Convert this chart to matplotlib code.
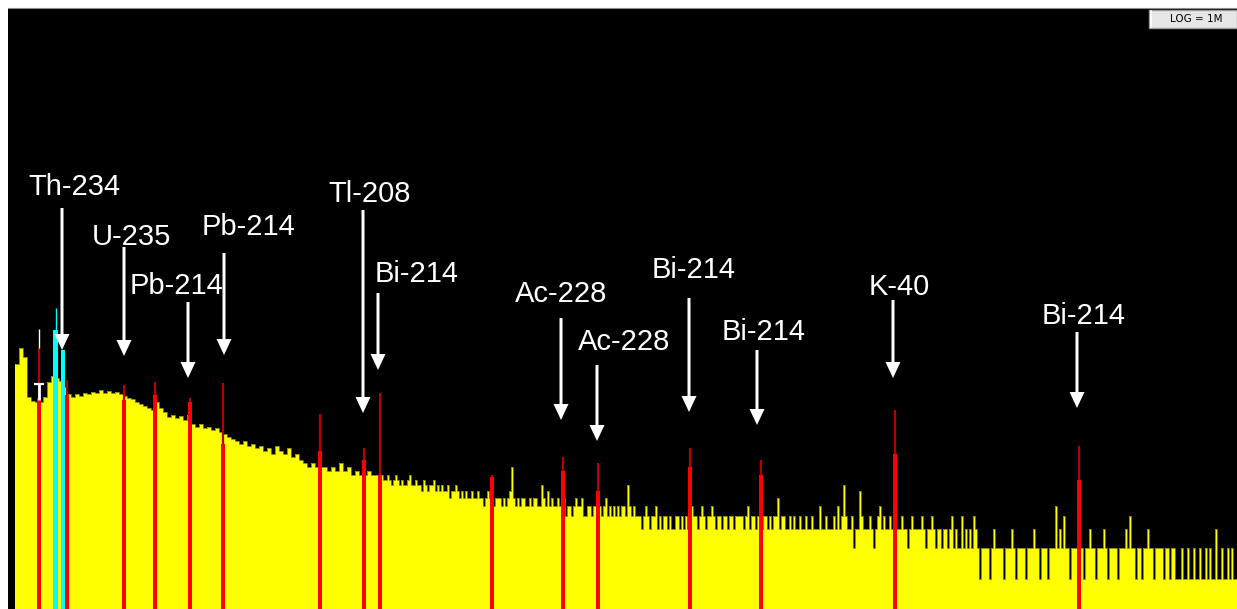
import numpy as np
import matplotlib
matplotlib.use("Agg")
import matplotlib.pyplot as plt
from matplotlib.patches import Polygon, Rectangle
from matplotlib.ticker import NullLocator

# ---------------------------------------------------------------- data
# Gamma spectrum, low-energy part: counts per 4-channel bin from channel 7
counts_low = [
    118, 165, 135, 56, 52, 50, 50, 56, 78, 90,
    85, 80, 70, 60, 56, 60, 58, 62, 60, 63,
    61, 65, 62, 64, 62, 63, 60, 58, 55, 54,
    50, 48, 46, 44, 42, 50, 44, 40, 36, 38,
    35, 37, 34, 38, 31, 29, 31, 28, 29, 27,
    28, 26, 25, 23, 22, 21, 20, 21, 19, 20,
    18, 19, 17, 18, 16, 19, 17, 16, 18, 15,
    16, 14, 13, 12, 13, 12, 12, 12, 11, 12,
    11, 13, 11, 12, 10, 11, 10, 10, 11, 10,
    10,
]
low_start = 7
low_width = 4

# High-energy part: counts per 2-channel bin from channel 371
counts_high = [
    9, 10, 9, 9, 10, 9, 8, 9, 10, 9,
    8, 9, 8, 8, 9, 10, 8, 8, 9, 8,
    8, 7, 9, 8, 7, 8, 8, 9, 7, 8,
    7, 8, 7, 7, 8, 6, 7, 7, 8, 7,
    6, 7, 6, 7, 6, 6, 7, 6, 6, 7,
    6, 6, 5, 6, 7, 6, 6, 5, 6, 6,
    6, 5, 6, 5, 6, 7, 12, 6, 5, 6,
    5, 6, 6, 5, 5, 6, 5, 6, 6, 5,
    5, 8, 6, 5, 7, 5, 6, 5, 5, 6,
    5, 5, 6, 4, 5, 5, 4, 5, 6, 5,
    5, 6, 4, 4, 5, 5, 4, 5, 5, 4,
    5, 4, 5, 6, 4, 5, 4, 5, 4, 5,
    4, 5, 5, 4, 8, 5, 4, 5, 4, 4,
    4, 3, 4, 5, 4, 3, 4, 4, 5, 3,
    4, 3, 4, 4, 3, 4, 3, 3, 4, 4,
    3, 4, 3, 4, 3, 4, 5, 4, 4, 3,
    4, 5, 4, 3, 4, 4, 5, 4, 3, 4,
    4, 3, 4, 4, 3, 4, 4, 3, 4, 4,
    4, 4, 3, 4, 5, 3, 4, 4, 3, 4,
    4, 3, 4, 4, 3, 4, 3, 4, 4, 6,
    3, 4, 4, 3, 3, 4, 3, 4, 3, 3,
    4, 3, 3, 4, 3, 3, 4, 3, 3, 3,
    5, 3, 3, 4, 3, 3, 3, 4, 3, 5,
    3, 4, 8, 4, 3, 3, 4, 2, 3, 3,
    7, 4, 3, 3, 3, 4, 3, 2, 3, 4,
    5, 3, 4, 3, 3, 4, 3, 4, 3, 3,
    3, 4, 3, 3, 2, 3, 4, 3, 3, 3,
    3, 4, 3, 2, 3, 3, 4, 3, 2, 3,
    3, 2, 3, 3, 2, 3, 4, 2, 3, 2,
    2, 4, 2, 3, 2, 3, 2, 4, 3, 2,
    1, 2, 2, 2, 2, 1, 2, 3, 2, 2,
    2, 2, 1, 2, 2, 2, 3, 2, 1, 2,
    2, 2, 2, 1, 2, 2, 2, 3, 2, 2,
    1, 2, 2, 2, 1, 2, 2, 2, 5, 2,
    3, 2, 4, 2, 2, 1, 2, 2, 2, 2,
    2, 2, 1, 2, 2, 3, 2, 2, 1, 2,
    2, 2, 3, 2, 1, 2, 2, 2, 2, 1,
    2, 2, 2, 3, 2, 4, 2, 2, 1, 2,
    2, 1, 2, 2, 3, 2, 2, 1, 2, 2,
    2, 2, 1, 2, 2, 1, 2, 2, 1, 1,
    1, 2, 1, 1, 2, 1, 1, 2, 1, 1,
    2, 1, 1, 2, 1, 2, 1, 1, 3, 1,
    1, 2, 1, 1, 2, 1, 2, 1, 1,
]
high_start = 371
high_width = 2
n_channels = 1229

# Regions of interest drawn in red: centre channel, body height, peak height
roi_ch = [31, 59, 116, 147, 182, 215, 311.5, 355.5, 371.5, 483.5,
          554.5, 589.5, 681.5, 752.5, 886.5, 1070.5]
roi_body = [55, 59, 53, 59, 50, 20, 17, 14, 10, 9.5,
            11, 7, 12, 10, 16, 9]
roi_peak = [166, 82, 73, 78, 55, 77, 39, 18, 61, 10,
            15, 13, 18, 14, 42, 19]

# Low-energy region drawn in cyan
cyan_ch = [47.5, 55]
cyan_width = [5, 4]
cyan_counts = [248, 160]
cyan_spike_ch = 47.5
cyan_spike = 404

# Cursor
cursor_ch = 31
cursor_top = 253

# Nuclide labels and the peak channel each one points at
labels = ["Th-234", "U-235", "Pb-214", "Pb-214", "Tl-208", "Bi-214",
          "Ac-228", "Ac-228", "Bi-214", "Bi-214", "K-40", "Bi-214"]
label_ch = [54, 116, 180, 216, 355, 370, 553, 589, 681, 749, 885, 1069]

# ---------------------------------------------------------------- layout (pixels from top-left)
W, H = 1237, 609
text_x = [74, 131, 176, 248, 370, 417, 561, 624, 694, 764, 899, 1084]
text_base = [195, 245, 294, 235, 202, 282, 302, 350, 278, 340, 295, 324]
arrow_top = [208, 247, 302, 253, 210, 293, 318, 365, 298, 350, 300, 332]
arrow_tip = [350, 356, 378, 355, 413, 370, 420, 441, 412, 425, 378, 408]

YELLOW = "#ffff00"
OLIVE = "#7d7d00"
RED = "#ff0000"
DARK_RED = "#b80000"
CYAN = "#00ffff"

fig = plt.figure(figsize=(W / 100, H / 100), dpi=100, facecolor="white")
ax = fig.add_axes([8 / W, 0, (W - 8) / W, (H - 8) / H])
ax.set_facecolor("black")
for s in ax.spines.values():
    s.set_visible(False)

ymin = 10 ** (-30 / 104)
ymax = 10 ** ((H - 8 - 30) / 104)
ax.set_yscale("log")
ax.set_xlim(0, n_channels)
ax.set_ylim(ymin, ymax)
for axis in (ax.xaxis, ax.yaxis):
    axis.set_major_locator(NullLocator())
    axis.set_minor_locator(NullLocator())

edges_low = low_start + low_width * np.arange(len(counts_low) + 1)
edges_high = high_start + high_width * np.arange(len(counts_high) + 1)
for c, e in ((counts_low, edges_low), (counts_high, edges_high)):
    ax.stairs(c, e, fill=True, baseline=ymin, color=YELLOW, zorder=2)
    ax.stairs(c, e, baseline=None, color=OLIVE, lw=0.6, zorder=2.5)

# ROI peaks
ax.vlines(roi_ch, ymin, roi_peak, colors=DARK_RED, lw=1.6, zorder=3)
ax.bar(roi_ch, np.array(roi_body) - ymin, bottom=ymin, width=4,
       color=RED, linewidth=0, zorder=4)

# cyan region
ax.bar(cyan_ch, np.array(cyan_counts) - ymin, bottom=ymin, width=cyan_width,
       color=CYAN, linewidth=0, zorder=4)
ax.vlines([cyan_spike_ch], ymin, [cyan_spike], colors=CYAN, lw=1.0, zorder=3.5)

# cursor
ax.vlines([cursor_ch], roi_peak[0], cursor_top, colors="white", lw=1.0, zorder=4)

fig.canvas.draw()

# overlay in pixel coordinates for annotations
ov = fig.add_axes([0, 0, 1, 1], zorder=10)
ov.set_xlim(0, W)
ov.set_ylim(H, 0)
ov.set_axis_off()

# thin frame line along the top edge of the spectrum area
ov.plot([8, W], [7.5, 7.5], color="#8c8c8c", lw=0.8)

# cursor "T" marker
ov.plot([33.5, 43.5], [384, 384], color="white", lw=1.6, solid_capstyle="butt")
ov.plot([38.8, 38.8], [384, 400], color="white", lw=2.0, solid_capstyle="butt")

for name, ch, tx, tb, top, tip in zip(labels, label_ch, text_x, text_base,
                                      arrow_top, arrow_tip):
    x = ax.transData.transform((ch, 1.0))[0]
    hl, hw, sw = 16, 7.5, 1.5
    pts = [(x - sw, top), (x + sw, top), (x + sw, tip - hl), (x + hw, tip - hl),
           (x, tip), (x - hw, tip - hl), (x - sw, tip - hl)]
    ov.add_patch(Polygon(pts, closed=True, facecolor="white", edgecolor="none"))
    ov.text(tx, tb, name, color="white", fontsize=21, family="Liberation Sans",
            ha="center", va="baseline")

# log scale indicator box
ov.add_patch(Rectangle((1149, 10), 88, 18, facecolor="#e6e6e6",
                       edgecolor="#9a9a9a", lw=1))
ov.plot([1150.5, 1150.5], [11, 27], color="white", lw=1.2)
ov.text(1196, 19.5, "LOG = 1M", color="black", fontsize=7.5,
        family="DejaVu Sans", ha="center", va="center")

fig.savefig("out.png", dpi=100, facecolor="white")
